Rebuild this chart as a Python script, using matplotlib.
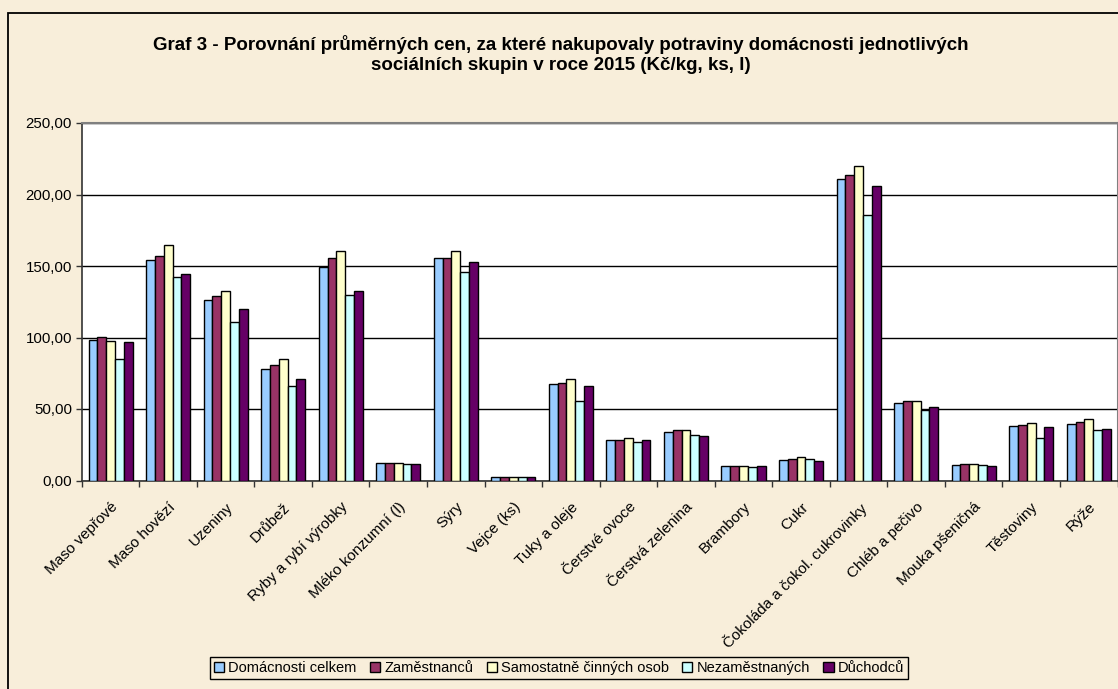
import numpy as np
import matplotlib
matplotlib.use("Agg")
import matplotlib.pyplot as plt
from matplotlib.patches import Rectangle

plt.rcParams["font.family"] = ["Liberation Sans", "DejaVu Sans"]

BG = "#F8EEDA"

categories = [
    "Maso vepřové", "Maso hovězí", "Uzeniny", "Drůbež", "Ryby a rybí výrobky",
    "Mléko konzumní (l)", "Sýry", "Vejce (ks)", "Tuky a oleje", "Čerstvé ovoce",
    "Čerstvá zelenina", "Brambory", "Cukr", "Čokoláda a čokol. cukrovinky",
    "Chléb a pečivo", "Mouka pšeničná", "Těstoviny", "Rýže",
]
series_names = [
    "Domácnosti celkem", "Zaměstnanců", "Samostatně činných osob",
    "Nezaměstnaných", "Důchodců",
]
celkem = [98.0, 154.2, 126.0, 78.0, 149.3, 12.0, 155.4, 2.4, 67.3, 28.3,
          33.9, 10.1, 14.6, 210.6, 54.2, 10.8, 38.3, 39.7]
zamestnanci = [100.6, 157.2, 128.8, 80.8, 155.8, 12.0, 155.4, 2.4, 68.0, 28.3,
               35.5, 10.1, 15.0, 213.8, 55.6, 11.2, 38.8, 40.7]
osvc = [97.8, 164.9, 132.5, 84.8, 160.5, 12.3, 160.5, 2.5, 71.0, 29.5,
        35.5, 10.3, 16.2, 219.9, 55.4, 11.2, 40.4, 42.8]
nezamestnani = [85.2, 142.1, 110.8, 66.3, 129.7, 11.3, 146.0, 2.2, 55.8, 26.7,
                31.8, 9.2, 14.8, 185.7, 49.3, 10.8, 29.7, 35.3]
duchodci = [96.6, 144.4, 120.1, 71.0, 132.7, 11.8, 153.0, 2.3, 65.9, 28.1,
            30.9, 10.1, 13.6, 206.2, 51.6, 10.3, 37.4, 36.2]
series = [celkem, zamestnanci, osvc, nezamestnani, duchodci]
colors = ["#99CCFF", "#993366", "#FFFFCC", "#CCFFFF", "#660066"]
yticks = [0, 50, 100, 150, 200, 250]

fig = plt.figure(figsize=(11.18, 6.89), dpi=100, facecolor=BG)

# outer chart frame (cropped on the right and bottom)
fig.patches.append(Rectangle((8 / 1118, -0.1), 1.2, 1 - 13 / 689 + 0.1,
                             transform=fig.transFigure, fill=False,
                             edgecolor="black", linewidth=1.3))

ax = fig.add_axes([81.8 / 1118, 1 - 480.5 / 689, (1117.5 - 81.8) / 1118, (480.5 - 123) / 689])
ax.set_facecolor("white")

x = np.arange(len(categories))
w = 0.153
for i, (vals, col, name) in enumerate(zip(series, colors, series_names)):
    ax.bar(x + (i - 2) * w, vals, width=w, color=col, edgecolor="black",
           linewidth=1.0, label=name, zorder=3)

ax.set_xlim(-0.5, len(categories) - 0.5)
ax.set_ylim(0, 250)
ax.set_yticks(yticks)
ax.set_yticklabels([f"{v:.2f}".replace(".", ",") for v in yticks], fontsize=10.8)
ax.grid(axis="y", color="black", linewidth=1.0, zorder=1)

ax.set_xticks(x)
ax.set_xticklabels(categories, rotation=45, ha="right", rotation_mode="anchor", fontsize=11)
ax.tick_params(axis="x", length=0, pad=14)
ax.set_xticks(np.arange(len(categories) + 1) - 0.5, minor=True)
ax.tick_params(axis="x", which="minor", length=4, width=1, color="#333333")
ax.tick_params(axis="y", length=4, width=1, color="#333333", pad=3)

for side in ["top", "right"]:
    ax.spines[side].set_color("#808080")
    ax.spines[side].set_linewidth(1.5)
for side in ["left", "bottom"]:
    ax.spines[side].set_color("#333333")
    ax.spines[side].set_linewidth(1.2)

fig.text(561 / 1118, 1 - 45 / 689,
         "Graf 3 - Porovnání průměrných cen, za které nakupovaly potraviny domácnosti jednotlivých",
         ha="center", va="center", fontsize=13.5, fontweight="bold")
fig.text(561 / 1118, 1 - 65 / 689,
         "sociálních skupin v roce 2015 (Kč/kg, ks, l)",
         ha="center", va="center", fontsize=13.5, fontweight="bold")

leg = fig.legend(loc="center", bbox_to_anchor=(559 / 1118, 1 - 668 / 689), ncol=5,
                 fontsize=10.5, frameon=True, fancybox=False, edgecolor="black",
                 facecolor=BG, framealpha=1, handlelength=0.7, handleheight=0.7,
                 handletextpad=0.3, columnspacing=0.9, borderpad=0.25,
                 borderaxespad=0)
leg.get_frame().set_linewidth(1.0)

fig.savefig("out.png", dpi=100, facecolor=BG)
